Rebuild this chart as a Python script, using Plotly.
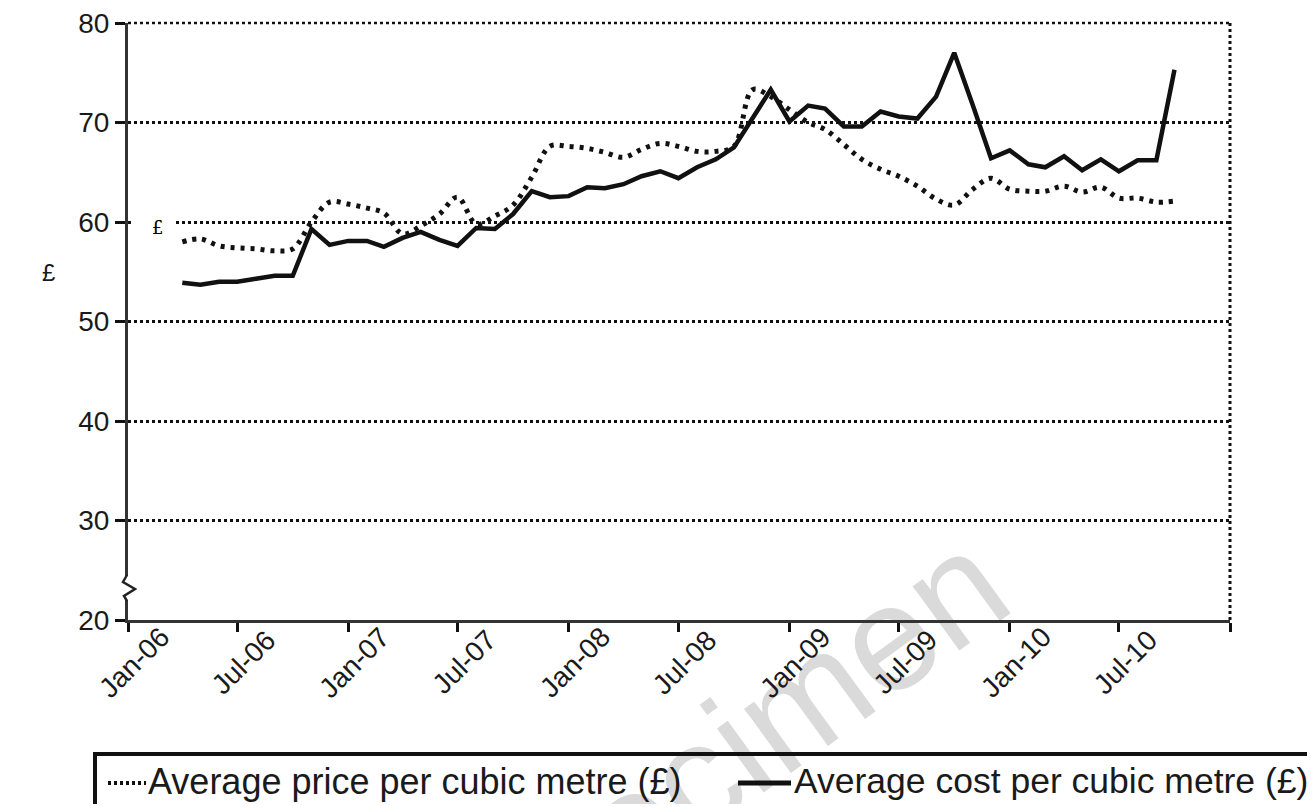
import pandas as pd
import plotly.graph_objects as go

# ---- data ----
months = pd.date_range("2006-04-01", "2010-10-01", freq="MS")

avg_price = [58.0, 58.3, 57.6, 57.4, 57.3, 57.1, 57.3,
             60.0, 62.0, 61.8, 61.4, 60.9, 58.8, 59.6, 60.8, 62.5, 59.8, 60.6,
             61.7, 64.5, 67.6, 67.6, 67.4, 67.0, 66.5, 67.3, 67.9, 67.6,
             67.1, 67.1, 67.6, 73.3, 72.6, 71.3, 70.0, 69.3, 67.8, 66.3,
             65.3, 64.6, 63.6, 62.3, 61.7, 63.3, 64.4, 63.3, 63.1, 63.1,
             63.6, 63.0, 63.5, 62.4, 62.4, 62.0, 62.1]

avg_cost = [53.9, 53.7, 54.0, 54.0, 54.3, 54.6, 54.6,
            59.3, 57.7, 58.1, 58.1, 57.5, 58.4, 59.0, 58.2, 57.6, 59.4, 59.3,
            60.8, 63.1, 62.5, 62.6, 63.5, 63.4, 63.8, 64.6, 65.1, 64.4,
            65.5, 66.3, 67.5, 70.4, 73.3, 70.1, 71.7, 71.4, 69.6, 69.6,
            71.1, 70.6, 70.4, 72.6, 77.0, 71.7, 66.4, 67.2, 65.8, 65.5,
            66.6, 65.2, 66.3, 65.1, 66.2, 66.2, 75.3]

tick_dates = ["2006-01-01", "2006-07-01", "2007-01-01", "2007-07-01", "2008-01-01",
              "2008-07-01", "2009-01-01", "2009-07-01", "2010-01-01", "2010-07-01",
              "2011-01-01"]
tick_labels = ["Jan-06", "Jul-06", "Jan-07", "Jul-07", "Jan-08", "Jul-08",
               "Jan-09", "Jul-09", "Jan-10", "Jul-10", ""]

series_names = ["Average price per cubic metre (£)", "Average cost per cubic metre (£)"]
y_ticks = [20, 30, 40, 50, 60, 70, 80]

FONT = "Liberation Sans, Arial, Helvetica, sans-serif"
INK = "#1a1a1a"

# page offset (body margin) and plot-area position in page pixels
OFF = 8
FW, FH = 1315 - 2 * OFF, 812 - 2 * OFF
PL, PR, PT, PB = 128, 1230, 23, 620
PW, PH = PR - PL, PB - PT


def px(x):
    return (x - PL) / PW


def py(y):
    return (PB - y) / PH


fig = go.Figure()
fig.add_trace(go.Scatter(
    x=months, y=avg_price, name=series_names[0], mode="lines",
    line=dict(color="#111111", width=5, dash="4px,6px", shape="spline", smoothing=1),
    showlegend=False))
fig.add_trace(go.Scatter(
    x=months, y=avg_cost, name=series_names[1], mode="lines",
    line=dict(color="#111111", width=4.5), showlegend=False))

annotations = []
# x tick labels (rotated)
for d, t in zip(tick_dates, tick_labels):
    if t:
        annotations.append(dict(
            x=d, xref="x", y=py(662), yref="paper", text=t, showarrow=False,
            textangle=-45, xanchor="center", yanchor="middle", xshift=6,
            font=dict(family=FONT, size=28, color=INK)))

# y axis title
annotations.append(dict(x=px(40), y=py(272), xref="paper", yref="paper", text="£",
                        showarrow=False, font=dict(family=FONT, size=24, color=INK)))
# stray £ label on the 60 gridline
annotations.append(dict(x=px(150), y=py(228), xref="paper", yref="paper", text="£",
                        showarrow=False,
                        font=dict(family="DejaVu Serif, Liberation Serif, serif",
                                  size=18, color="#000000")))
# legend texts
annotations.append(dict(x=px(146), y=py(781), xref="paper", yref="paper",
                        text=series_names[0], showarrow=False, xanchor="left",
                        yanchor="middle", font=dict(family=FONT, size=36, color=INK)))
annotations.append(dict(x=px(792), y=py(781), xref="paper", yref="paper",
                        text=series_names[1], showarrow=False, xanchor="left",
                        yanchor="middle", font=dict(family=FONT, size=35.5, color=INK)))

shapes = [
    # watermark
    dict(type="rect", xref="paper", yref="paper", layer="below",
         x0=px(560), x1=px(860), y0=py(810), y1=py(690),
         line=dict(width=0), fillcolor="rgba(0,0,0,0)",
         label=dict(text="Specimen", textangle=-36, textposition="middle center",
                    font=dict(family=FONT, size=150, color="#dadada"))),
    # top dotted border (80 gridline)
    dict(type="line", xref="paper", yref="paper", x0=0, x1=1, y0=1, y1=1,
         line=dict(color="#111111", width=2.5, dash="dot")),
    # right dotted border
    dict(type="line", xref="paper", yref="paper", x0=1, x1=1, y0=0, y1=1,
         line=dict(color="#111111", width=3, dash="dot")),
    # white patch behind stray £ on gridline
    dict(type="rect", xref="paper", yref="paper", x0=px(131), x1=px(175),
         y0=py(234), y1=py(214), line=dict(width=0), fillcolor="white"),
    # axis break
    dict(type="rect", xref="paper", yref="paper", x0=px(124), x1=px(131),
         y0=py(600), y1=py(576), line=dict(width=0), fillcolor="white"),
    dict(type="path", xref="paper", yref="paper",
         path=f"M {px(127)},{py(575)} L {px(123)},{py(582)} L {px(135)},{py(589)} "
              f"L {px(124)},{py(596)} L {px(127)},{py(601)}",
         line=dict(color="#222222", width=2.5)),
    # legend box
    dict(type="rect", xref="paper", yref="paper", x0=px(95), x1=px(1340),
         y0=py(840), y1=py(754), line=dict(color="#111111", width=4),
         fillcolor="rgba(0,0,0,0)"),
    # legend symbols
    dict(type="line", xref="paper", yref="paper", x0=px(108), x1=px(146),
         y0=py(783), y1=py(783), line=dict(color="#111111", width=4, dash="3px,3px")),
    dict(type="line", xref="paper", yref="paper", x0=px(738), x1=px(791),
         y0=py(783), y1=py(783), line=dict(color="#111111", width=5)),
]

fig.update_layout(
    width=FW, height=FH,
    margin=dict(l=PL - OFF, r=OFF + FW - PR, t=PT - OFF, b=OFF + FH - PB,
                autoexpand=False),
    paper_bgcolor="white", plot_bgcolor="white",
    font=dict(family=FONT, color=INK),
    annotations=annotations, shapes=shapes,
    xaxis=dict(type="date", range=["2006-01-01", "2011-01-01"],
               tickvals=tick_dates, ticktext=tick_labels, showticklabels=False,
               ticks="outside", ticklen=9, tickwidth=3, tickcolor="#111111",
               showline=True, linewidth=3, linecolor="#333333", automargin=False,
               showgrid=False, zeroline=False),
    yaxis=dict(range=[20, 80], tickvals=y_ticks, automargin=False,
               ticklabeloverflow="allow",
               ticks="outside", ticklen=10, tickwidth=3, tickcolor="#111111",
               showline=True, linewidth=3, linecolor="#333333",
               showgrid=True, gridcolor="#111111", gridwidth=2.5, griddash="dot",
               zeroline=False, tickfont=dict(family=FONT, size=28, color=INK)),
)

fig.write_html("out.html")
